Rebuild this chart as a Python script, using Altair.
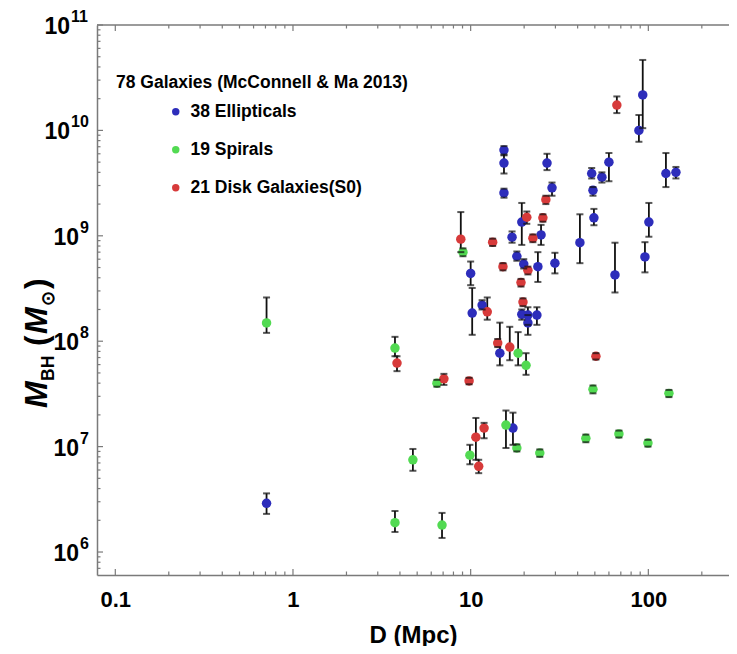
import altair as alt
import pandas as pd

# ---------------- data ----------------
cats = ["38 Ellipticals", "19 Spirals", "21 Disk Galaxies(S0)"]
colors = ["#2d2dbb", "#52da52", "#d73a3a"]

ell_D = [0.71, 93, 88.5, 60, 48, 54.8, 48.8, 125.6, 143, 49.4, 100.7, 41.2, 95.7, 64.9,
         15.4, 15.4, 15.4, 26.9, 28.7, 24.9, 19.4, 17.1, 18.2, 19.9, 23.9, 29.8, 10.0,
         10.2, 11.6, 19.4, 21.0, 23.6, 21.0, 14.6, 17.3]
ell_M = [2.9e6, 2.17e10, 1.0e10, 5.0e9, 3.9e9, 3.6e9, 2.7e9, 3.9e9, 4.0e9, 1.48e9, 1.35e9,
         8.6e8, 6.3e8, 4.25e8, 6.5e9, 4.9e9, 2.55e9, 4.9e9, 2.85e9, 1.02e9, 1.35e9, 9.7e8,
         6.4e8, 5.4e8, 5.1e8, 5.5e8, 4.4e8, 1.85e8, 2.2e8, 1.8e8, 1.77e8, 1.77e8, 1.49e8,
         7.7e7, 1.5e7]
ell_lo = [2.3e6, 1.05e10, 7.8e9, 3.3e9, 3.5e9, 3.2e9, 2.4e9, 2.9e9, 3.5e9, 1.26e9, 9.8e8,
          5.5e8, 4.5e8, 2.9e8, 5.8e9, 3.9e9, 2.3e9, 4.2e9, 2.4e9, 8.2e8, 8.2e8, 8.6e8,
          5.8e8, 4.9e8, 3.65e8, 4.4e8, 3.4e8, 1.15e8, 2.0e8, 1.6e8, 1.43e8, 1.43e8, 1.15e8,
          5.9e7, 1.04e7]
ell_hi = [3.6e6, 4.66e10, 1.4e10, 6.1e9, 4.4e9, 4.0e9, 2.9e9, 6.1e9, 4.5e9, 1.8e9, 2.05e9,
          1.6e9, 8.7e8, 8.6e8, 7.1e9, 5.9e9, 2.8e9, 6.0e9, 3.2e9, 1.27e9, 2.05e9, 1.1e9,
          7.1e8, 6.0e8, 7.0e8, 6.9e8, 5.7e8, 3.2e8, 2.45e8, 2.0e8, 2.1e8, 2.1e8, 1.77e8,
          1.5e8, 2.1e7]

sp_D = [0.71, 3.75, 3.75, 4.73, 6.46, 6.9, 9.05, 9.9, 15.8, 18.2, 18.5, 20.5, 24.5, 44.5,
        48.8, 68.3, 99.5, 130.6]
sp_M = [1.49e8, 8.6e7, 1.9e6, 7.5e6, 4.0e7, 1.8e6, 7.0e8, 8.3e6, 1.6e7, 9.7e6, 7.7e7, 5.9e7,
        8.7e6, 1.2e7, 3.5e7, 1.32e7, 1.08e7, 3.2e7]
sp_lo = [1.2e8, 7.2e7, 1.55e6, 5.9e6, 3.7e7, 1.36e6, 6.4e8, 6.8e6, 9.7e6, 9.0e6, 5.9e7, 4.8e7,
         8.0e6, 1.1e7, 3.2e7, 1.22e7, 1.0e7, 2.95e7]
sp_hi = [2.6e8, 1.1e8, 2.45e6, 9.5e6, 4.3e7, 2.35e6, 7.6e8, 1.04e7, 2.2e7, 1.05e7, 1.22e8,
         7.7e7, 9.4e6, 1.3e7, 3.8e7, 1.42e7, 1.16e7, 3.45e7]

s0_D = [3.85, 7.07, 9.8, 11.9, 10.7, 11.1, 8.8, 13.3, 15.2, 20.7, 22.4, 25.5, 26.5, 19.2, 19.7,
        12.4, 14.2, 16.6, 50.7, 66.5, 21.0]
s0_M = [6.2e7, 4.4e7, 4.2e7, 1.5e7, 1.23e7, 6.5e6, 9.3e8, 8.7e8, 5.1e8, 1.5e9, 9.5e8, 1.48e9,
        2.2e9, 3.6e8, 2.35e8, 1.9e8, 9.6e7, 8.8e7, 7.2e7, 1.74e10, 4.7e8]
s0_lo = [5.2e7, 3.85e7, 3.9e7, 1.2e7, 7.5e6, 5.6e6, 7.0e8, 8.0e8, 4.7e8, 1.3e9, 8.7e8, 1.36e9,
         2.0e9, 3.3e8, 2.15e8, 1.6e8, 8.8e7, 6.6e7, 6.7e7, 1.46e10, 4.3e8]
s0_hi = [7.2e7, 4.9e7, 4.5e7, 1.68e7, 1.87e7, 7.5e6, 1.68e9, 9.4e8, 5.5e8, 1.7e9, 1.03e9, 1.6e9,
         2.4e9, 3.9e8, 2.55e8, 2.6e8, 1.05e8, 1.37e8, 7.7e7, 2.1e10, 5.1e8]

x_major = [0.1, 1, 10, 100]
x_minor = [m * d for d in [0.1, 1, 10, 100] for m in range(2, 10) if m * d < 290]
y_major = [1e6, 1e7, 1e8, 1e9, 1e10, 1e11]
y_exp = ["6", "7", "8", "9", "10", "11"]
y_minor = [m * d for d in [1e5, 1e6, 1e7, 1e8, 1e9, 1e10] for m in range(2, 10) if m * d > 6.1e5]

legend_title = "78 Galaxies (McConnell & Ma 2013)"

# ---------------- chart ----------------
FONT = "Liberation Sans"
AX = "#7a7a7a"
W, H = 632, 550

df = pd.concat([
    pd.DataFrame({"type": cats[0], "D": ell_D, "M": ell_M, "lo": ell_lo, "hi": ell_hi}),
    pd.DataFrame({"type": cats[1], "D": sp_D, "M": sp_M, "lo": sp_lo, "hi": sp_hi}),
    pd.DataFrame({"type": cats[2], "D": s0_D, "M": s0_M, "lo": s0_lo, "hi": s0_hi}),
], ignore_index=True)

x_scale = alt.Scale(type="log", domain=[10 ** -1.103, 10 ** 2.454], nice=False, zero=False)
y_scale = alt.Scale(type="log", domain=[10 ** 5.782, 1e11], nice=False, zero=False)

x_axis = alt.Axis(
    values=x_major, format="~g", title="D (Mpc)", ticks=False, grid=False,
    labelFont=FONT, labelFontSize=22, labelFontWeight="bold", labelColor="black",
    labelPadding=14, labelFlush=False, titleFont=FONT, titleFontSize=24,
    titleFontWeight="bold", titleColor="black", titlePadding=13,
    domainColor=AX, domainWidth=1.5)
y_axis = alt.Axis(values=y_major, labels=False, title=None, ticks=False, grid=False,
                  domainColor=AX, domainWidth=1.5)

bars = alt.Chart(df).mark_rule(color="#111111", strokeWidth=1.8).encode(
    x=alt.X("D:Q", scale=x_scale, axis=x_axis),
    y=alt.Y("lo:Q", scale=y_scale, axis=y_axis),
    y2="hi:Q",
)

points = alt.Chart(df).mark_circle(size=90, opacity=1).encode(
    x=alt.X("D:Q", scale=x_scale, axis=x_axis),
    y=alt.Y("M:Q", scale=y_scale, axis=y_axis),
    color=alt.Color("type:N", scale=alt.Scale(domain=cats, range=colors), legend=alt.Legend(
        title=None, orient="none", legendX=70, legendY=78, direction="vertical",
        labelFont=FONT, labelFontSize=17.5, labelFontWeight="bold", labelColor="black",
        labelLimit=0, symbolType="circle", symbolSize=55, symbolStrokeWidth=0,
        rowPadding=19, labelOffset=6, padding=0)),
)

cap_lo = alt.Chart(df).mark_tick(orient="horizontal", color="#111111", size=7, thickness=2).encode(
    x=alt.X("D:Q", scale=x_scale, axis=x_axis),
    y=alt.Y("lo:Q", scale=y_scale, axis=y_axis),
)
cap_hi = alt.Chart(df).mark_tick(orient="horizontal", color="#111111", size=7, thickness=2).encode(
    x=alt.X("D:Q", scale=x_scale, axis=x_axis),
    y=alt.Y("hi:Q", scale=y_scale, axis=y_axis),
)


def xticks(vals, length, top=False):
    d = pd.DataFrame({"v": vals})
    y0 = 0 if top else H
    y1 = length if top else H - length
    return alt.Chart(d).mark_rule(color=AX, strokeWidth=1.2).encode(
        x=alt.X("v:Q", scale=x_scale, axis=x_axis), y=alt.value(y0), y2=alt.value(y1))


def yticks(vals, length):
    d = pd.DataFrame({"v": vals})
    return alt.Chart(d).mark_rule(color=AX, strokeWidth=1.2).encode(
        y=alt.Y("v:Q", scale=y_scale, axis=y_axis), x=alt.value(0), x2=alt.value(length))


top_line = alt.Chart(pd.DataFrame({"a": [0]})).mark_rule(color=AX, strokeWidth=1.5).encode(
    x=alt.value(0), x2=alt.value(W), y=alt.value(0))

# y tick labels: "10" with a superscript exponent
ylab = pd.DataFrame({"v": y_major, "e": y_exp})
ylab["w"] = ylab["e"].str.len()
ten_1 = alt.Chart(ylab[ylab.w == 1]).mark_text(
    font=FONT, fontSize=23, fontWeight="bold", color="black", align="right", baseline="middle", dy=2
).encode(text=alt.value("10"), y=alt.Y("v:Q", scale=y_scale, axis=y_axis), x=alt.value(-18))
ten_2 = alt.Chart(ylab[ylab.w == 2]).mark_text(
    font=FONT, fontSize=23, fontWeight="bold", color="black", align="right", baseline="middle", dy=2
).encode(text=alt.value("10"), y=alt.Y("v:Q", scale=y_scale, axis=y_axis), x=alt.value(-27))
exp_1 = alt.Chart(ylab[ylab.w == 1]).mark_text(
    font=FONT, fontSize=16, fontWeight="bold", color="black", align="left", baseline="middle", dy=-8
).encode(text="e:N", y=alt.Y("v:Q", scale=y_scale, axis=y_axis), x=alt.value(-17))
exp_2 = alt.Chart(ylab[ylab.w == 2]).mark_text(
    font=FONT, fontSize=16, fontWeight="bold", color="black", align="left", baseline="middle", dy=-8
).encode(text="e:N", y=alt.Y("v:Q", scale=y_scale, axis=y_axis), x=alt.value(-26))

leg_title = alt.Chart(pd.DataFrame({"t": [legend_title]})).mark_text(
    font=FONT, fontSize=17.5, fontWeight="bold", color="black", align="left", baseline="middle"
).encode(text="t:N", x=alt.value(19), y=alt.value(58))

# rotated y-axis title  M_BH (M_sun)
title_parts = [
    ("M", 32, "italic", -50, 383),
    ("BH", 17.5, "normal", -43, 356),
    ("(", 32, "normal", -50, 321),
    ("M", 32, "italic", -50, 309),
    ("⊙", 18, "normal", -43, 281),
    (")", 32, "normal", -50, 264),
]
ytitle_layers = []
for txt, fs, style, px, py in title_parts:
    ytitle_layers.append(
        alt.Chart(pd.DataFrame({"t": [txt]})).mark_text(
            font=FONT, fontSize=fs, fontWeight="bold", fontStyle=style, color="black",
            angle=270, align="left", baseline="alphabetic"
        ).encode(text="t:N", x=alt.value(px), y=alt.value(py))
    )

chart = alt.layer(
    bars, points, cap_lo, cap_hi,
    top_line,
    xticks(x_major, 6), xticks(x_minor, 3.5),
    xticks(x_major, 6, top=True), xticks(x_minor, 3.5, top=True),
    yticks(y_major, 6), yticks(y_minor, 3.5),
    ten_1, ten_2, exp_1, exp_2,
    leg_title, *ytitle_layers,
).properties(
    width=W, height=H,
    padding={"left": 89, "top": 17, "right": 0, "bottom": 71},
    autosize=alt.AutoSizeParams(type="none"),
    background="white",
).configure_view(stroke=None)

chart.save("out.html", embed_options={"renderer": "svg", "actions": False})
